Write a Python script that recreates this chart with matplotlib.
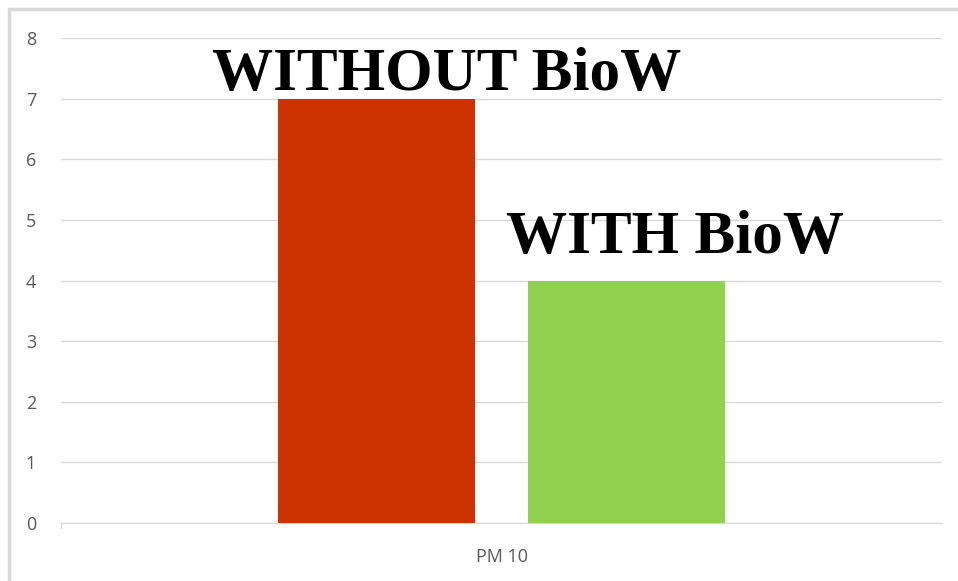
import matplotlib.pyplot as plt
from matplotlib.patches import Rectangle

# -------------------------------
# Data
# -------------------------------
category = "PM 10"
series_names = ["WITHOUT BioW", "WITH BioW"]
series_values = [7, 4]
series_colors = ["#CC3300", "#92D050"]
y_ticks = [0, 1, 2, 3, 4, 5, 6, 7, 8]

# -------------------------------
# Figure
# -------------------------------
fig = plt.figure(figsize=(9.58, 5.81), dpi=100)
ax = fig.add_axes([61 / 958, 1 - 523 / 581, 881 / 958, 485 / 581])

bar_width = 0.224
offsets = [-0.142, 0.142]
for name, val, col, off in zip(series_names, series_values, series_colors, offsets):
    ax.bar(off, val, width=bar_width, color=col, zorder=3)

# labels above the bars
ax.text(-0.062, 7.14, series_names[0], ha="center", va="baseline",
        fontsize=44, fontweight="bold", family="Liberation Serif", zorder=4)
ax.text(0.197, 4.45, series_names[1], ha="center", va="baseline",
        fontsize=44, fontweight="bold", family="Liberation Serif", zorder=4)

ax.set_xlim(-0.5, 0.5)
ax.set_ylim(0, 8)
ax.set_yticks(y_ticks)
ax.set_xticks([0])
ax.set_xticklabels([category])

ax.grid(axis="y", color="#d9d9d9", linewidth=1, zorder=0)
for s in ["top", "right", "left"]:
    ax.spines[s].set_visible(False)
ax.spines["bottom"].set_color("#d9d9d9")
ax.plot([-0.5, -0.5], [0, -0.08], color="#d9d9d9", lw=1, clip_on=False)

ax.tick_params(axis="y", length=0, pad=18, labelsize=13, labelcolor="#595959")
ax.tick_params(axis="x", length=0, pad=18, labelsize=13, labelcolor="#595959")
for lbl in ax.get_xticklabels() + ax.get_yticklabels():
    lbl.set_family("Open Sans")

# light border around the chart area
fig.patches.append(Rectangle((9 / 958, -0.1), 1.2, 1 - 9 / 581 + 0.1,
                             transform=fig.transFigure, fill=False,
                             edgecolor="#d9d9d9", linewidth=2.5))

plt.savefig("out.png", dpi=100)
